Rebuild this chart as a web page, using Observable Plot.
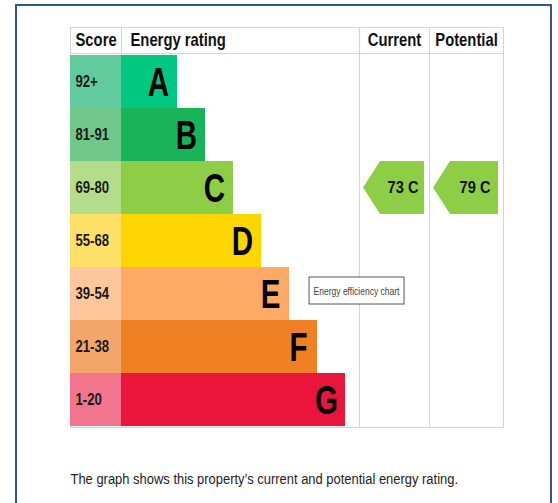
<!DOCTYPE html>
<html>
<head>
<meta charset="utf-8">
<script src="https://cdn.jsdelivr.net/npm/d3@7"></script>
<script src="https://cdn.jsdelivr.net/npm/@observablehq/plot@0.6"></script>
<style>
  html, body { margin: 0; padding: 0; background: #fff; }
  #wrap { position: relative; width: 558px; height: 503px; overflow: hidden; }
  #border { position: absolute; left: 15px; top: 4px; width: 537px; height: 520px;
            border: 2.5px solid #2f5597; box-sizing: border-box; }
  #chart { position: absolute; left: 0; top: 0; }
  svg text { font-family: "Liberation Sans", Arial, sans-serif; }
</style>
</head>
<body>
<div id="wrap">
  <div id="border"></div>
  <div id="chart"></div>
</div>
<script>
// ---- data ----
const ratings = ["A", "B", "C", "D", "E", "F", "G"];
const scoreBands = ["92+", "81-91", "69-80", "55-68", "39-54", "21-38", "1-20"];
const bandMin = [92, 81, 69, 55, 39, 21, 1];
const barLengths = [2, 3, 4, 5, 6, 7, 8];
const barColors = ["#00c781", "#19b459", "#8dce46", "#ffd500", "#fcaa65", "#ef8023", "#e9153b"];
const scoreColors = ["#62cb9d", "#6fc88a", "#b4dd8b", "#ffe066", "#fdc69b", "#f4a56a", "#f0758d"];
const headers = ["Score", "Energy rating", "Current", "Potential"];
const currentScore = 73;
const potentialScore = 79;
const caption = "The graph shows this property\u2019s current and potential energy rating.";
const tooltipText = "Energy efficiency chart";

// ---- derived tables ----
const rows = ratings.map((r, i) => ({rating: r, band: scoreBands[i], length: barLengths[i], color: barColors[i], scoreColor: scoreColors[i]}));
const ratingOf = s => ratings[bandMin.findIndex(m => s >= m)];

// column layout (x units: one unit = one bar step)
const colScore = [-1.82, 0], colRating = [0, 8.5], colCurrent = [8.5, 11], colPotential = [11, 13.64];
const tipUnits = 17 / 28;
const arrows = [
  {score: currentScore, col: colCurrent},
  {score: potentialScore, col: colPotential}
].map(d => ({...d, rating: ratingOf(d.score), label: `${d.score} ${ratingOf(d.score)}`,
             color: barColors[ratings.indexOf(ratingOf(d.score))],
             cx: (d.col[0] + tipUnits + d.col[1]) / 2}));
const headerCenter = [
  {text: headers[2], x: (colCurrent[0] + colCurrent[1]) / 2},
  {text: headers[3], x: (colPotential[0] + colPotential[1]) / 2}
];

const grid = "#d4d4d4";

function arrowMark(index, scales) {
  const {x, y} = scales;
  const bw = y.bandwidth ? y.bandwidth() : 53;
  const g = d3.create("svg:g");
  for (const a of arrows) {
    const x1 = x(a.col[0]) + 4, x2 = x(a.col[1]) - 5;
    const y0 = y(a.rating), y1 = y0 + bw, ym = y0 + bw / 2;
    const tip = x1 + 17;
    g.append("path")
      .attr("d", `M${x1},${ym}L${tip},${y0}L${x2},${y0}L${x2},${y1}L${tip},${y1}Z`)
      .attr("fill", a.color);
  }
  // tooltip box next to rating E
  const tx = x(barLengths[4]) + 20, ty = y("E") + 10;
  const t = g.append("g").attr("transform", `translate(${tx},${ty})`).attr("aria-description", "tooltip");
  t.append("rect").attr("width", 95).attr("height", 27).attr("fill", "#fff")
    .attr("stroke", "#555").attr("stroke-width", 1);
  t.append("text").attr("x", 47.5).attr("y", 17.5).attr("font-size", 11.5).attr("fill", "#444")
    .attr("text-anchor", "middle").text(tooltipText);
  return g.node();
}

const headerStyle = {frameAnchor: "top", lineAnchor: "middle", dy: -13, fontSize: 18.5, fontWeight: "bold",
                     fill: "#111", ariaDescription: "header"};

const plot = Plot.plot({
  width: 558,
  height: 503,
  marginLeft: 70,
  marginRight: 55,
  marginTop: 53,
  marginBottom: 76,
  x: {domain: [colScore[0], colPotential[1]], axis: null},
  y: {domain: ratings, padding: 0, axis: null},
  style: {background: "transparent"},
  marks: [
    // grid lines
    Plot.ruleX([colRating[0]], {stroke: grid, insetTop: -26, insetBottom: 374}),
    Plot.ruleX([colCurrent[0], colPotential[0]], {stroke: grid, insetTop: -26}),
    Plot.frame({stroke: grid}),
    Plot.frame({stroke: grid, insetTop: -26}),
    // score cells and bars
    Plot.rect(rows, {x1: colScore[0], x2: colScore[1], y: "rating", fill: "scoreColor"}),
    Plot.barX(rows, {x1: 0, x2: "length", y: "rating", fill: "color"}),
    Plot.text(rows, {x: colScore[0], y: "rating", text: "band", textAnchor: "start", dx: 5,
                     fontSize: 16, fontWeight: "bold", fill: "#1a1a1a", ariaDescription: "scores"}),
    Plot.text(rows, {x: "length", y: "rating", text: "rating", textAnchor: "middle", dx: -19, dy: 1,
                     fontSize: 41, fontWeight: "bold", fill: "#000", ariaDescription: "letters"}),
    // header
    Plot.text([headers[0]], {x: colScore[0], text: d => d, textAnchor: "start", dx: 5, ...headerStyle}),
    Plot.text([headers[1]], {x: colRating[0], text: d => d, textAnchor: "start", dx: 9, ...headerStyle}),
    Plot.text(headerCenter, {x: "x", text: "text", textAnchor: "middle", ...headerStyle}),
    // arrows
    arrowMark,
    Plot.text(arrows, {x: "cx", y: "rating", text: "label", fontSize: 17, fontWeight: "bold", fill: "#111",
                       ariaDescription: "arrowlabels"}),
    // caption
    Plot.text([caption], {frameAnchor: "bottom-left", text: d => d, dy: 56, fontSize: 15.5, fill: "#222",
                          textAnchor: "start", ariaDescription: "caption"})
  ]
});
document.getElementById("chart").appendChild(plot);

// narrow the type (the reference uses a condensed face)
const condense = {scores: 0.82, letters: 0.72, header: 0.8, arrowlabels: 0.86, caption: 0.835, tooltip: 0.74};
for (const [key, f] of Object.entries(condense)) {
  plot.querySelectorAll(`g[aria-description="${key}"] text`).forEach(el => {
    const w = el.getComputedTextLength();
    el.setAttribute("textLength", (w * f).toFixed(2));
    el.setAttribute("lengthAdjust", "spacingAndGlyphs");
  });
}
</script>
</body>
</html>
